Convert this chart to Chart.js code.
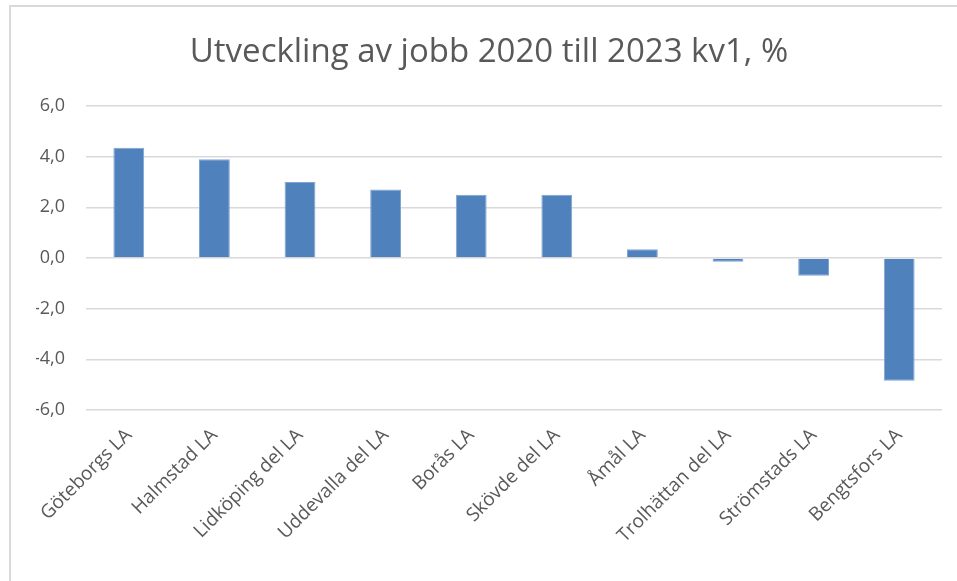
<!DOCTYPE html>
<html>
<head>
<meta charset="utf-8">
<script src="https://cdn.jsdelivr.net/npm/chart.js@4"></script>
<style>
  html, body { margin: 0; padding: 0; background: #fff; overflow: hidden; }
  #ram { position: absolute; left: 9px; top: 5px; width: 1000px; height: 700px;
         border-left: 2px solid #d9d9d9; border-top: 2px solid #d9d9d9; }
  #chartJobb { position: absolute; left: 0; top: 0; }
</style>
</head>
<body>
<div id="ram"></div>
<canvas id="chartJobb" width="957" height="581"></canvas>
<script>
const rubrik = 'Utveckling av jobb 2020 till 2023 kv1, %';
const omraden = ['Göteborgs LA', 'Halmstad LA', 'Lidköping del LA', 'Uddevalla del LA', 'Borås LA',
  'Skövde del LA', 'Åmål LA', 'Trolhättan del LA', 'Strömstads LA', 'Bengtsfors LA'];
const utveckling = [4.35, 3.9, 3.0, 2.7, 2.5, 2.5, 0.35, -0.15, -0.7, -4.85];
const yMin = -6;
const yMax = 6;
const ySteg = 2;

const textFarg = '#595959';
const typsnitt = "'Open Sans', sans-serif";

const ctx = document.getElementById('chartJobb');
let grafico = new Chart(ctx, {
  type: 'bar',
  data: {
    labels: omraden,
    datasets: [{
      label: rubrik,
      data: utveckling,
      backgroundColor: '#4f81bd',
      borderColor: '#7fa3d1',
      borderWidth: 1,
      barPercentage: 0.36,
      categoryPercentage: 1
    }]
  },
  options: {
    responsive: false,
    animation: false,
    devicePixelRatio: 1,
    layout: {
      // vänstermarginalen flyttar rubriken lite åt höger
      padding: { left: 36, right: 15, top: 0, bottom: 0 }
    },
    plugins: {
      legend: { display: false },
      tooltip: { enabled: false },
      title: {
        display: true,
        text: rubrik,
        color: textFarg,
        font: { family: typsnitt, size: 33, weight: 'normal', lineHeight: 1.2 },
        padding: { top: 33, bottom: 33.4 }
      }
    },
    scales: {
      x: {
        grid: { display: false },
        border: { display: false },
        ticks: {
          color: textFarg,
          font: { family: typsnitt, size: 19 },
          minRotation: 45,
          maxRotation: 45,
          autoSkip: false,
          padding: 6
        },
        afterFit: (scale) => { scale.height = 171; }
      },
      y: {
        min: yMin,
        max: yMax,
        grid: { color: '#d9d9d9', lineWidth: 1.5, drawTicks: false },
        border: { display: false },
        ticks: {
          stepSize: ySteg,
          color: textFarg,
          font: { family: typsnitt, size: 18 },
          padding: 21,
          callback: (v) => v.toFixed(1).replace('.', ',')
        },
        afterFit: (scale) => { scale.width = 50; }
      }
    }
  }
});
</script>
</body>
</html>
